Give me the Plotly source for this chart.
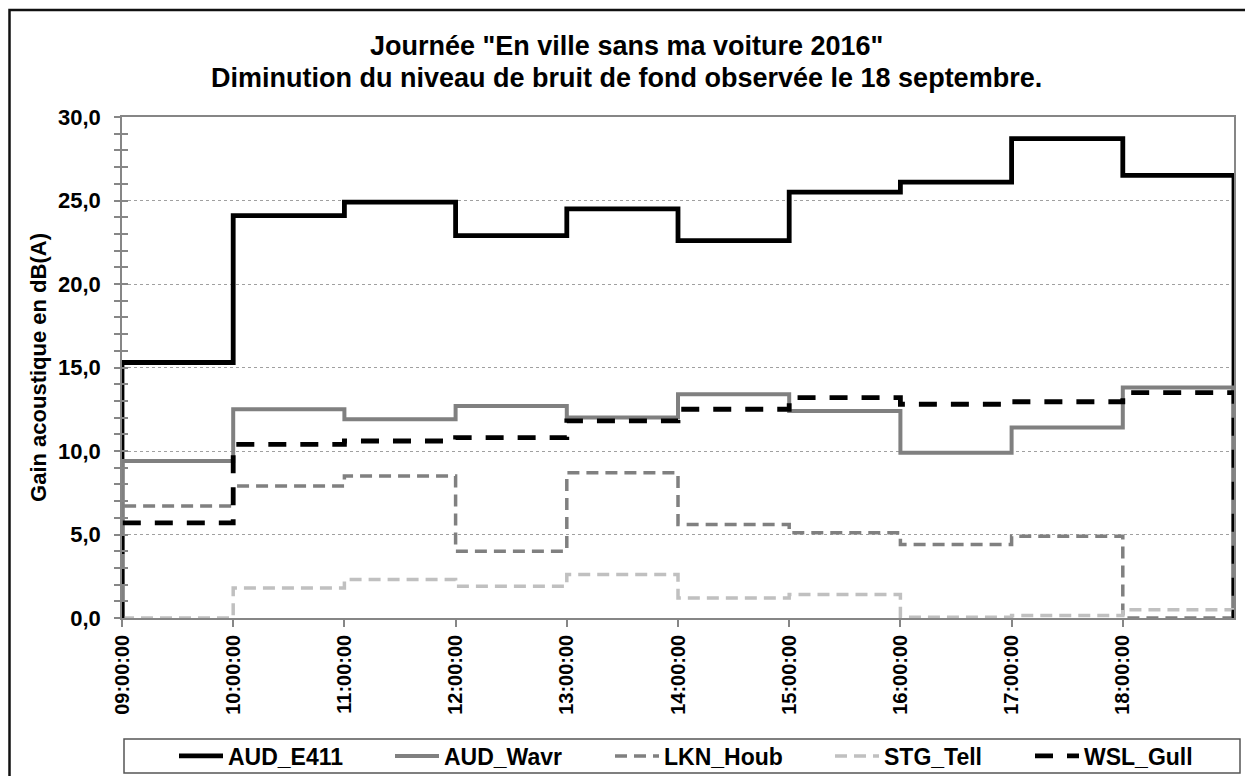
import plotly.graph_objects as go

# ---------------- data ----------------
hours = [9, 10, 11, 12, 13, 14, 15, 16, 17, 18]
hour_labels = ["09:00:00", "10:00:00", "11:00:00", "12:00:00", "13:00:00",
               "14:00:00", "15:00:00", "16:00:00", "17:00:00", "18:00:00"]
end_hour = 19

aud_e411 = [15.3, 24.1, 24.9, 22.9, 24.5, 22.6, 25.5, 26.1, 28.7, 26.5]
aud_wavr = [9.4, 12.5, 11.9, 12.7, 12.0, 13.4, 12.4, 9.9, 11.4, 13.8]
lkn_houb = [6.7, 7.9, 8.5, 4.0, 8.7, 5.6, 5.1, 4.4, 4.9, 0.0]
stg_tell = [0.0, 1.8, 2.3, 1.9, 2.6, 1.2, 1.4, 0.05, 0.15, 0.5]
wsl_gull = [5.7, 10.4, 10.6, 10.8, 11.8, 12.5, 13.2, 12.8, 12.95, 13.5]

series_names = ["AUD_E411", "AUD_Wavr", "LKN_Houb", "STG_Tell", "WSL_Gull"]
series_values = [aud_e411, aud_wavr, lkn_houb, stg_tell, wsl_gull]

# ---------------- styles ----------------
FONT = "Liberation Sans, Arial, sans-serif"
styles = [
    dict(color="#000000", width=4.8, dash="solid"),
    dict(color="#808080", width=4, dash="solid"),
    dict(color="#808080", width=3.5, dash="12px,7px"),
    dict(color="#c0c0c0", width=3.5, dash="12px,7px"),
    dict(color="#000000", width=4.8, dash="18px,14px"),
]

OFF = 8  # page body margin
W, H = 1253 - OFF, 776 - OFF
# plot area in screenshot pixels
SL, SR, ST, SB = 122, 1234, 117, 618
L, R, T, B = SL - OFF, SR - OFF, ST - OFF, SB - OFF


def px_x(px):
    return (px - OFF - L) / (R - L)


def px_y(py):
    return (B - (py - OFF)) / (B - T)


def bfont(size):
    return dict(family=FONT, size=size, color="black", weight="bold")


fig = go.Figure()
legend_starts = [179, 395, 615, 835, 1035]
for i, (name, vals, st) in enumerate(zip(series_names, series_values, styles)):
    xs = [hours[0]] + hours + [end_hour]
    ys = [0] + vals + [0]
    lg = "legend" if i == 0 else f"legend{i + 1}"
    fig.add_trace(go.Scatter(
        x=xs, y=ys, mode="lines", name=name, line_shape="hv",
        line=dict(color=st["color"], width=st["width"], dash=st["dash"]),
        legend=lg,
    ))

# helper trace so the secondary (tick-only) y axis is drawn
fig.add_trace(go.Scatter(x=[hours[0]], y=[None], yaxis="y2", mode="lines",
                         showlegend=False, hoverinfo="skip"))

legend_common = dict(
    orientation="h", yanchor="middle", xanchor="left",
    xref="container", yref="container",
    y=1 - (756 - OFF) / H, bgcolor="rgba(0,0,0,0)", borderwidth=0,
    font=bfont(23), itemwidth=44, tracegroupgap=0,
)
layout_legends = {}
for i, xs in enumerate(legend_starts):
    key = "legend" if i == 0 else f"legend{i + 1}"
    layout_legends[key] = dict(legend_common, x=(xs - OFF - 5) / W)

axis_col = "#868686"
fig.update_layout(
    width=W, height=H,
    margin=dict(l=L, r=W - R, t=T, b=H - B, autoexpand=False),
    paper_bgcolor="white", plot_bgcolor="white",
    font=dict(family=FONT, size=22, color="black"),
    showlegend=True,
    separators=",.",
    xaxis=dict(
        range=[hours[0], end_hour], tickmode="array", tickvals=hours,
        ticktext=hour_labels, tickangle=-90, automargin=False,
        ticks="outside", ticklen=7, tickcolor=axis_col, tickwidth=1.5,
        showline=True, linecolor=axis_col, linewidth=1.5, mirror=True,
        showgrid=False, zeroline=False,
        tickfont=bfont(20),
    ),
    yaxis=dict(
        range=[0, 30], tickmode="linear", tick0=0, dtick=5, automargin=False,
        tickformat=".1f", ticks="outside", ticklen=6, tickcolor=axis_col, tickwidth=1.5,
        minor=dict(dtick=1, ticks="outside", ticklen=6, tickcolor=axis_col, tickwidth=1.5, showgrid=False),
        showline=True, linecolor=axis_col, linewidth=1.5, mirror=True,
        showgrid=True, gridcolor="#a0a0a0", gridwidth=1, griddash="dot",
        zeroline=False, ticklabelstandoff=9,
        tickfont=bfont(22),
        title=dict(text="Gain acoustique en dB(A)", standoff=5, font=bfont(22)),
    ),
    yaxis2=dict(
        overlaying="y", side="left", range=[0, 30], tickmode="linear", tick0=0, dtick=5,
        ticks="inside", ticklen=6, tickcolor=axis_col, tickwidth=1.5,
        minor=dict(dtick=1, ticks="inside", ticklen=6, tickcolor=axis_col, tickwidth=1.5, showgrid=False),
        showticklabels=False, showgrid=False, zeroline=False, showline=False, automargin=False,
    ),
    **layout_legends,
)

# title lines
fig.add_annotation(text="Journée \"En ville sans ma voiture 2016\"",
                   xref="paper", yref="paper", x=px_x(626), y=px_y(46),
                   xanchor="center", yanchor="middle", showarrow=False,
                   font=bfont(27))
fig.add_annotation(text="Diminution du niveau de bruit de fond observée le 18 septembre.",
                   xref="paper", yref="paper", x=px_x(626), y=px_y(78),
                   xanchor="center", yanchor="middle", showarrow=False,
                   font=bfont(27))

# legend box
fig.add_shape(type="rect", xref="paper", yref="paper",
              x0=px_x(124), x1=px_x(1240), y0=px_y(773), y1=px_y(739),
              line=dict(color="#555555", width=1.5), fillcolor="rgba(0,0,0,0)")
# outer chart border (left and top edges visible, others beyond the canvas)
fig.add_shape(type="rect", xref="paper", yref="paper",
              x0=px_x(9.5), x1=px_x(1270), y0=px_y(800), y1=px_y(10),
              line=dict(color="#111111", width=2.5), fillcolor="rgba(0,0,0,0)")

fig.write_html("out.html")
